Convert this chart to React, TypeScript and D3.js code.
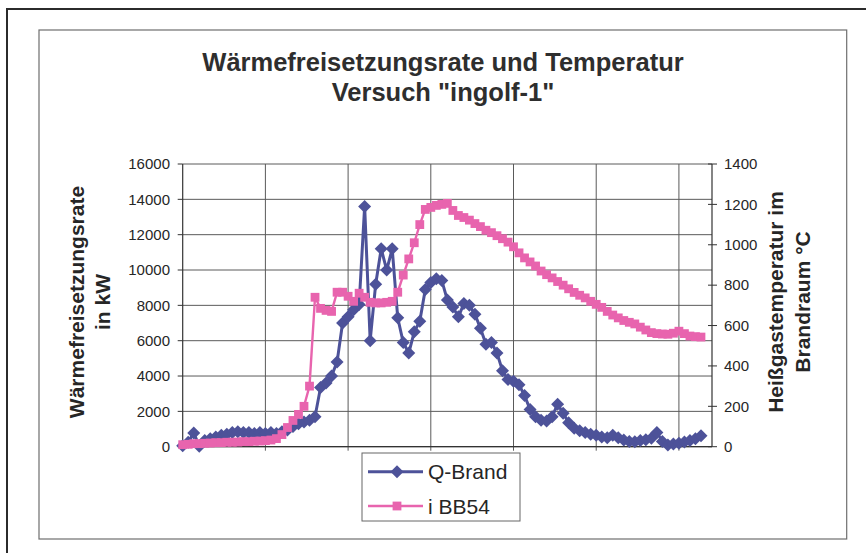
import React from "react";
import * as d3 from "d3";

// ---- data ----
const qBrand: number[] = [
  50, 250, 780, 30, 350, 450, 550, 650, 700, 800,
  850, 800, 800, 750, 800, 750, 800, 750, 850, 950,
  1150, 1300, 1400, 1500, 1700, 3350, 3600, 4000, 4800, 7000,
  7350, 7750, 8050, 13600, 6000, 9200, 11200, 10000, 11200, 7300,
  5900, 5300, 6500, 7100, 8900, 9300, 9500, 9400, 8300, 7900,
  7350, 8100, 8000, 7500, 6700, 5800, 5900, 5300, 4300, 3800,
  3700, 3500, 2900, 2100, 1700, 1500, 1450, 1700, 2400, 1900,
  1350, 1050, 900, 800, 700, 650, 550, 500, 650, 500,
  380, 300, 280, 350, 400, 480, 800, 300, 100, 150,
  200, 270, 350, 450, 620,
];

const bb54: number[] = [
  10, 12, 15, 15, 17, 18, 20, 20, 22, 22,
  23, 25, 25, 27, 28, 30, 33, 40, 60, 95,
  130, 160, 200, 300, 740, 685, 675, 670, 765, 765,
  745, 720, 760, 740, 715, 712, 712, 715, 720, 765,
  850, 930, 1010, 1100, 1175, 1185, 1195, 1200, 1205, 1170,
  1145, 1135, 1122, 1105, 1090, 1072, 1060, 1045, 1030, 1013,
  990, 960, 935, 915, 895, 870, 852, 836, 818, 800,
  782, 764, 750, 737, 720, 705, 690, 670, 652, 638,
  625, 616, 608, 592, 578, 565, 560, 558, 557, 562,
  572, 560, 548, 545, 543,
];

const leftTicks: number[] = [0, 2000, 4000, 6000, 8000, 10000, 12000, 14000, 16000];
const rightTicks: number[] = [0, 200, 400, 600, 800, 1000, 1200, 1400];
const categoryCount = 96;
const gridEvery = 15;
const titleLines: string[] = ["Wärmefreisetzungsrate und Temperatur", "Versuch \"ingolf-1\""];
const leftTitle: string[] = ["Wärmefreisetzungsrate", "in kW"];
const rightTitle: string[] = ["Heißgastemperatur im", "Brandraum °C"];
const seriesNames: string[] = ["Q-Brand", "i BB54"];

const FONT = "'Liberation Sans', Arial, Helvetica, sans-serif";
const BLUE = "#4d5299";
const PINK = "#e864ae";
const TEXT = "#262626";

export default function App() {
  const L = 182.7, R = 712, T = 164, B = 446.7;
  const x = d3.scaleLinear().domain([0, categoryCount]).range([L, R]);
  const yL = d3.scaleLinear().domain([0, 16000]).range([B, T]);
  const yR = d3.scaleLinear().domain([0, 1400]).range([B, T]);

  const lineQ = d3.line<number>().x((_, i) => x(i)).y((d) => yL(d));
  const lineT = d3.line<number>().x((_, i) => x(i)).y((d) => yR(d));

  const vGrid = d3.range(gridEvery, categoryCount, gridEvery);
  const dm = 6.5;
  const diamond = `M0,${-dm}L${dm},0L0,${dm}L${-dm},0Z`;
  const sq = 4.4;

  return (
    <svg
      width={866}
      height={553}
      style={{ position: "absolute", left: 0, top: 0, background: "#fff" }}
      fontFamily={FONT}
    >
      <rect x={0} y={0} width={866} height={553} fill="#fff" />
      {/* outer frame */}
      <rect x={7} y={9} width={900} height={600} fill="none" stroke="#2b2b2b" strokeWidth={2} />
      {/* chart area */}
      <rect x={39} y={30} width={807.7} height={509} fill="#fff" stroke="#6e6e6e" strokeWidth={1.2} />

      {/* title */}
      {titleLines.map((t, k) => (
        <text key={t} x={443} y={71 + k * 30} textAnchor="middle" fontSize={25.5} fontWeight="bold" fill="#2e2e2e">
          {t}
        </text>
      ))}

      {/* gridlines */}
      {leftTicks.map((v) => (
        <line key={"h" + v} x1={L} x2={R} y1={yL(v)} y2={yL(v)} stroke="#5a5a5a" strokeWidth={1} />
      ))}
      {vGrid.map((i) => (
        <line key={"v" + i} x1={x(i)} x2={x(i)} y1={T} y2={B + 4} stroke="#5a5a5a" strokeWidth={1} />
      ))}

      {/* axes */}
      <line x1={L} x2={L} y1={T} y2={B} stroke="#333" strokeWidth={1.2} />
      <line x1={R} x2={R} y1={T} y2={B} stroke="#333" strokeWidth={1.2} />
      <line x1={L} x2={R} y1={B} y2={B} stroke="#333" strokeWidth={1.2} />

      {leftTicks.map((v) => (
        <g key={"lt" + v}>
          <line x1={L - 5} x2={L} y1={yL(v)} y2={yL(v)} stroke="#333" />
          <text x={170} y={yL(v)} dy="0.35em" textAnchor="end" fontSize={15} fill={TEXT}>
            {v}
          </text>
        </g>
      ))}
      {rightTicks.map((v) => (
        <g key={"rt" + v}>
          <line x1={R - 4} x2={R + 5} y1={yR(v)} y2={yR(v)} stroke="#333" />
          <text x={724} y={yR(v)} dy="0.35em" textAnchor="start" fontSize={15} fill={TEXT}>
            {v}
          </text>
        </g>
      ))}

      {/* axis titles */}
      <g transform="translate(0,302)">
        <text transform="translate(83.5,0) rotate(-90)" textAnchor="middle" fontSize={21} fontWeight="bold" fill={TEXT}>
          {leftTitle[0]}
        </text>
        <text transform="translate(110,0) rotate(-90)" textAnchor="middle" fontSize={21} fontWeight="bold" fill={TEXT}>
          {leftTitle[1]}
        </text>
        <text transform="translate(783,0) rotate(-90)" textAnchor="middle" fontSize={21} fontWeight="bold" fill={TEXT}>
          {rightTitle[0]}
        </text>
        <text transform="translate(810,0) rotate(-90)" textAnchor="middle" fontSize={21} fontWeight="bold" fill={TEXT}>
          {rightTitle[1]}
        </text>
      </g>

      {/* Q-Brand series */}
      <path d={lineQ(qBrand) || ""} fill="none" stroke={BLUE} strokeWidth={3} />
      {qBrand.map((v, i) => (
        <path key={"q" + i} d={diamond} transform={`translate(${x(i)},${yL(v)})`} fill={BLUE} />
      ))}

      {/* i BB54 series */}
      <path d={lineT(bb54) || ""} fill="none" stroke={PINK} strokeWidth={2.4} />
      {bb54.map((v, i) => (
        <rect key={"t" + i} x={x(i) - sq} y={yR(v) - sq} width={sq * 2} height={sq * 2} fill={PINK} />
      ))}

      {/* legend */}
      <rect x={362} y={453} width={158} height={68} fill="#fff" stroke="#666" strokeWidth={1} />
      <line x1={368} x2={423} y1={471.7} y2={471.7} stroke={BLUE} strokeWidth={3} />
      <path d={diamond} transform="translate(397,471.7)" fill={BLUE} />
      <text x={428} y={471.7} dy="0.36em" fontSize={21} fill={TEXT}>
        {seriesNames[0]}
      </text>
      <line x1={368} x2={423} y1={506} y2={506} stroke={PINK} strokeWidth={2.4} />
      <rect x={397 - sq} y={506 - sq} width={sq * 2} height={sq * 2} fill={PINK} />
      <text x={428} y={506} dy="0.36em" fontSize={21} fill={TEXT}>
        {seriesNames[1]}
      </text>
    </svg>
  );
}
